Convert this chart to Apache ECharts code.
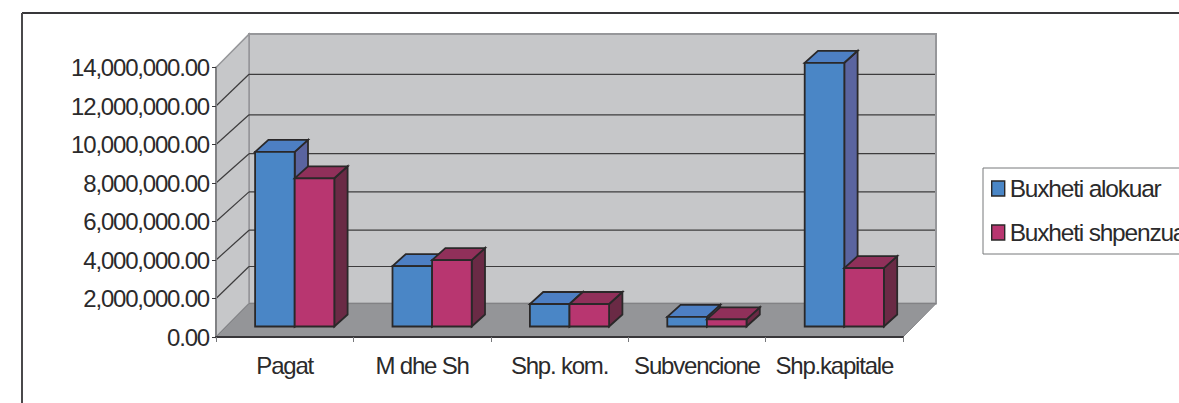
<!DOCTYPE html>
<html>
<head>
<meta charset="utf-8">
<style>
  html, body { margin: 0; padding: 0; background: #fff; overflow: hidden; }
  #chart { width: 1179px; height: 403px; }
  #chart svg text { letter-spacing: -1.2px; }
</style>
<script src="https://cdn.jsdelivr.net/npm/echarts@6/dist/echarts.min.js"></script>
</head>
<body>
<div id="chart"></div>
<script>
const categories = ['Pagat', 'M dhe Sh', 'Shp. kom.', 'Subvencione', 'Shp.kapitale'];
const allocated = [9070000, 3140000, 1170000, 500000, 13700000];
const spent = [7700000, 3450000, 1170000, 370000, 3030000];
const yTicks = [0, 2000000, 4000000, 6000000, 8000000, 10000000, 12000000, 14000000];
const seriesNames = ['Buxheti alokuar', 'Buxheti shpenzuar'];

// Oblique projection of the 3D box: how far the back wall sits from the front plane.
const WALL_DX = 33, WALL_DY = 33.4;
// Height of each gridline's rise from the side wall's front edge to the back wall, tick by tick.
const GRID_RISE = [33.4, 32, 29.8, 29.6, 29.3, 29.7, 31.7, 33];
const BAR_OFFSET_X = 10, BAR_OFFSET_Y = 10.5;
const BAR_DX = 13.3, BAR_DY = 12;
const BAR_WIDTH = 39.6;
const EDGE = '#2a2829';
const FONT = '"Liberation Sans", Arial, sans-serif';

function poly(points, fill, stroke, lineWidth) {
  return {
    type: 'polygon',
    shape: { points },
    style: { fill, stroke: stroke || null, lineWidth: lineWidth || 0, lineJoin: 'miter' }
  };
}
function seg(x1, y1, x2, y2, stroke, lineWidth) {
  return { type: 'line', shape: { x1, y1, x2, y2 }, style: { stroke, lineWidth } };
}

// Side wall, back wall, floor and the gridlines that wrap around them.
function renderBackdrop(params, api) {
  const band = api.size([1, 0])[0];
  const left = api.coord([0, 0])[0] - band / 2;
  const right = left + band * categories.length;
  const yOf = v => api.coord([0, v])[1];
  const y0 = yOf(yTicks[0]);
  const yTop = yOf(yTicks[yTicks.length - 1]);
  const dx = WALL_DX, dy = WALL_DY;
  const children = [
    poly([[left + dx, yTop - dy], [right + dx, yTop - dy], [right + dx, y0 - dy], [left + dx, y0 - dy]], '#c6c7c9', '#96979a', 2),
    poly([[left, y0], [left, yTop], [left + dx, yTop - dy], [left + dx, y0 - dy]], '#c6c7c9', '#96979a', 1.5),
    poly([[left, y0], [right, y0], [right + dx, y0 - dy], [left + dx, y0 - dy]], '#949598', '#808184', 1)
  ];
  yTicks.forEach((v, i) => {
    if (i === 0 || i === yTicks.length - 1) return;
    const y = yOf(v);
    const rise = GRID_RISE[i];
    children.push(seg(left, y, left + dx, y - rise, '#3d3c3d', 1.2));
    children.push(seg(left + dx, y - rise, right + dx - 1, y - rise, '#3d3c3d', 1.2));
  });
  return { type: 'group', children };
}

// One cuboid per category; the slot places it left or right of the band's centre.
function barRenderer(slot, front, side, top) {
  return function (params, api) {
    const base = api.coord([api.value(0), 0]);
    const head = api.coord([api.value(0), api.value(1)]);
    const x0 = base[0] + BAR_OFFSET_X + (slot - 1) * BAR_WIDTH;
    const x1 = x0 + BAR_WIDTH;
    const yb = base[1] - BAR_OFFSET_Y;
    const yt = head[1] - BAR_OFFSET_Y;
    const d = BAR_DX, e = BAR_DY;
    return {
      type: 'group',
      children: [
        poly([[x1, yb], [x1 + d, yb - e], [x1 + d, yt - e], [x1, yt]], side, EDGE, 1.8),
        poly([[x0, yt], [x1, yt], [x1 + d, yt - e], [x0 + d, yt - e]], top, EDGE, 1.8),
        poly([[x0, yb], [x1, yb], [x1, yt], [x0, yt]], front, EDGE, 1.8)
      ]
    };
  };
}

const chart = echarts.init(document.getElementById('chart'), null, { renderer: 'svg' });
chart.setOption({
  animation: false,
  backgroundColor: '#ffffff',
  grid: { left: 216, top: 67.5, width: 687, height: 269.5, containLabel: false },
  xAxis: {
    type: 'category',
    data: categories,
    z: 5,
    axisLine: { lineStyle: { color: '#38373a', width: 2 } },
    axisTick: { show: true, length: 5, lineStyle: { color: '#77787b', width: 1 } },
    axisLabel: { color: '#2b2a2b', fontFamily: FONT, fontSize: 24, margin: 16, interval: 0 }
  },
  yAxis: {
    type: 'value',
    min: 0,
    max: 14000000,
    interval: 2000000,
    z: 5,
    axisLine: { show: true, lineStyle: { color: '#808184', width: 2 } },
    axisTick: { show: true, length: 4, lineStyle: { color: '#38373a', width: 1 } },
    splitLine: { show: false },
    axisLabel: {
      color: '#2b2a2b', fontFamily: FONT, fontSize: 24, margin: 7,
      formatter: v => v.toLocaleString('en-US', { minimumFractionDigits: 2, maximumFractionDigits: 2 })
    }
  },
  legend: {
    orient: 'vertical',
    left: 983,
    top: 168,
    data: seriesNames,
    icon: 'rect',
    itemWidth: 13,
    itemHeight: 15,
    itemGap: 19,
    padding: [8, 20, 9, 8],
    borderColor: '#77787b',
    borderWidth: 1,
    backgroundColor: '#ffffff',
    selectedMode: false,
    itemStyle: { borderColor: EDGE, borderWidth: 1.4 },
    textStyle: { color: '#2b2a2b', fontFamily: FONT, fontSize: 24.5, padding: [0, 0, 0, 0] }
  },
  graphic: [
    { type: 'line', silent: true, z: 10, shape: { x1: 22, y1: 13, x2: 1179, y2: 13 }, style: { stroke: '#38373a', lineWidth: 2 } },
    { type: 'line', silent: true, z: 10, shape: { x1: 22, y1: 13, x2: 22, y2: 403 }, style: { stroke: '#4a494b', lineWidth: 2 } }
  ],
  series: [
    {
      type: 'custom', z: 1, silent: true, clip: false,
      renderItem: renderBackdrop,
      data: [[0, 0]],
      encode: { x: 0, y: 1 }
    },
    {
      type: 'custom', name: seriesNames[0], z: 3, clip: false,
      itemStyle: { color: '#4a86c6' },
      renderItem: barRenderer(0, '#4a86c6', '#5a649f', '#4d7fc3'),
      data: categories.map((c, i) => [i, allocated[i]]),
      encode: { x: 0, y: 1 }
    },
    {
      type: 'custom', name: seriesNames[1], z: 3, clip: false,
      itemStyle: { color: '#b83670' },
      renderItem: barRenderer(1, '#b83670', '#6a2a45', '#90305a'),
      data: categories.map((c, i) => [i, spent[i]]),
      encode: { x: 0, y: 1 }
    }
  ]
});
</script>
</body>
</html>
